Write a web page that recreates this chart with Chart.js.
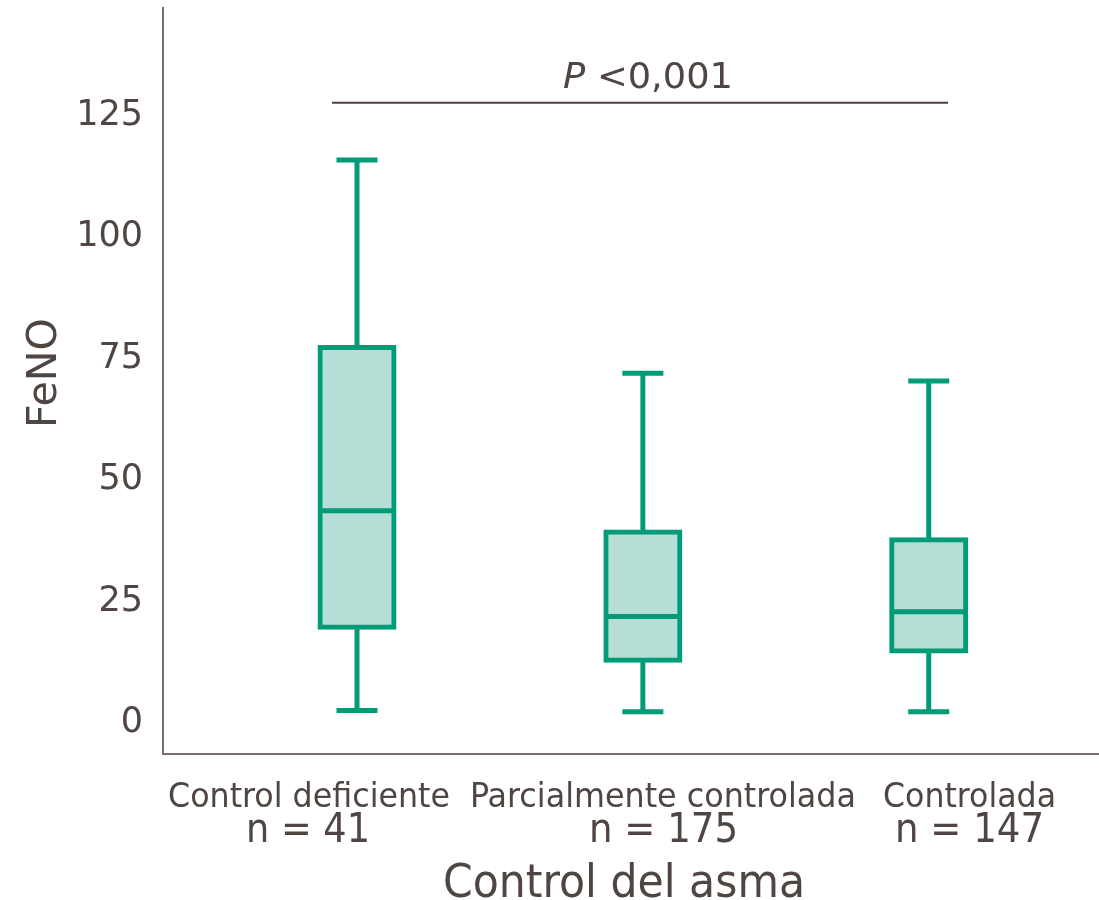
<!DOCTYPE html>
<html>
<head>
<meta charset="utf-8">
<script src="https://cdn.jsdelivr.net/npm/chart.js@4/dist/chart.umd.min.js"></script>
<style>
  html, body { margin: 0; padding: 0; background: #ffffff; }
  #wrap { width: 1099px; height: 900px; position: relative; }
</style>
</head>
<body>
<div id="wrap"><canvas id="c" width="1099" height="900"></canvas></div>
<script>
// ---- data ----
const categories = ["Control deficiente", "Parcialmente controlada", "Controlada"];
const sampleSizes = ["n = 41", "n = 175", "n = 147"];
const positions = [1, 2, 3];
const whiskerLow = [1.75, 1.5, 1.5];
const q1 = [18.9, 12.1, 14.0];
const median = [42.9, 21.1, 22.1];
const q3 = [76.5, 38.5, 36.9];
const whiskerHigh = [115.1, 71.2, 69.6];
const yTicks = [0, 25, 50, 75, 100, 125];
const bracketX = [0.9125, 3.0675];
const bracketY = 126.9;
const pText = ["P", " <0,001"];
const yTitle = "FeNO";
const xTitle = "Control del asma";

// ---- styles ----
const GREEN = "#009b77";
const FILL = "#b5ded6";
const TEXT = "#4f4643";
const AXIS = "#7d6f6b";

const datasets = [];
// medians (on top)
datasets.push({
  type: "line", order: 1, showLine: false,
  data: positions.map((x, i) => ({ x: x, y: median[i] })),
  pointStyle: "line", pointRadius: 37, pointHoverRadius: 37,
  pointBorderWidth: 5, pointBorderColor: GREEN, pointBackgroundColor: GREEN
});
// caps
datasets.push({
  type: "line", order: 1, showLine: false,
  data: positions.map((x, i) => ({ x: x, y: whiskerHigh[i] }))
    .concat(positions.map((x, i) => ({ x: x, y: whiskerLow[i] }))),
  pointStyle: "line", pointRadius: 20.5, pointHoverRadius: 20.5,
  pointBorderWidth: 5, pointBorderColor: GREEN, pointBackgroundColor: GREEN
});
// whiskers
positions.forEach((x, i) => {
  datasets.push({
    type: "line", order: 3, pointRadius: 0, borderColor: GREEN, borderWidth: 5,
    borderCapStyle: "butt",
    data: [{ x: x, y: q3[i] }, { x: x, y: whiskerHigh[i] }]
  });
  datasets.push({
    type: "line", order: 3, pointRadius: 0, borderColor: GREEN, borderWidth: 5,
    borderCapStyle: "butt",
    data: [{ x: x, y: whiskerLow[i] }, { x: x, y: q1[i] }]
  });
});
// boxes
datasets.push({
  type: "bar", order: 2,
  data: positions.map((x, i) => ({ x: x, y: [q1[i], q3[i]] })),
  backgroundColor: FILL, borderColor: GREEN, borderWidth: 5,
  borderSkipped: false, barThickness: 74, inflateAmount: 2.5
});
// significance bracket
datasets.push({
  type: "line", order: 1, pointRadius: 0, borderColor: "#4a403d", borderWidth: 2,
  data: [{ x: bracketX[0], y: bracketY }, { x: bracketX[1], y: bracketY }]
});

function fitText(ctx, text, cx, baseline, width, font, color) {
  ctx.save();
  ctx.font = font;
  ctx.fillStyle = color;
  ctx.textBaseline = "alphabetic";
  ctx.textAlign = "center";
  const w = ctx.measureText(text).width;
  ctx.translate(cx, baseline);
  ctx.scale(width / w, 1);
  ctx.fillText(text, 0, 0);
  ctx.restore();
}

const textPlugin = {
  id: "textPlugin",
  afterDraw(chart) {
    const ctx = chart.ctx;
    const xs = chart.scales.x;
    const ys = chart.scales.y;
    // y tick labels
    ctx.save();
    ctx.font = "35px 'DejaVu Sans'";
    ctx.fillStyle = TEXT;
    ctx.textAlign = "right";
    ctx.textBaseline = "middle";
    yTicks.forEach(v => ctx.fillText(String(v), 143, ys.getPixelForValue(v) + 4));
    ctx.restore();
    // category labels
    const catCenters = [309, 663, 969.5];
    const catWidths = [282, 386, 173];
    const nCenters = [308, 663.5, 969.5];
    const nWidths = [124, 149, 149];
    categories.forEach((c, i) => {
      fitText(ctx, c, catCenters[i], 807, catWidths[i], "34px 'DejaVu Sans Condensed', 'DejaVu Sans'", TEXT);
      fitText(ctx, sampleSizes[i], nCenters[i], 842, nWidths[i], "40px 'DejaVu Sans Condensed', 'DejaVu Sans'", TEXT);
    });
    fitText(ctx, xTitle, 624, 897, 362, "46px 'DejaVu Sans Condensed', 'DejaVu Sans'", TEXT);
    // y title
    ctx.save();
    ctx.translate(56, 373);
    ctx.rotate(-Math.PI / 2);
    ctx.font = "40px 'DejaVu Sans'";
    const tw = ctx.measureText(yTitle).width;
    ctx.scale(110 / tw, 1);
    ctx.fillStyle = TEXT;
    ctx.textAlign = "center";
    ctx.textBaseline = "alphabetic";
    ctx.fillText(yTitle, 0, 0);
    ctx.restore();
    // P value
    const by = ys.getPixelForValue(bracketY);
    const cx = (xs.getPixelForValue(bracketX[0]) + xs.getPixelForValue(bracketX[1])) / 2 + 8;
    ctx.save();
    ctx.fillStyle = TEXT;
    ctx.textBaseline = "alphabetic";
    ctx.textAlign = "left";
    ctx.font = "italic 35px 'DejaVu Sans'";
    const w1 = ctx.measureText(pText[0]).width;
    ctx.font = "35px 'DejaVu Sans'";
    const w2 = ctx.measureText(pText[1]).width;
    const total = w1 + w2;
    const sx = 170 / total;
    ctx.translate(cx - 85, by - 15);
    ctx.scale(sx, 1);
    ctx.font = "italic 35px 'DejaVu Sans'";
    ctx.fillText(pText[0], 0, 0);
    ctx.font = "35px 'DejaVu Sans'";
    ctx.fillText(pText[1], w1, 0);
    ctx.restore();
  }
};

new Chart(document.getElementById("c"), {
  type: "bar",
  data: { datasets: datasets },
  plugins: [textPlugin],
  options: {
    responsive: false,
    animation: false,
    events: [],
    layout: { autoPadding: false, padding: { left: 0, top: 8, right: 0, bottom: 0 } },
    plugins: { legend: { display: false }, tooltip: { enabled: false } },
    scales: {
      x: {
        type: "linear", min: 0.3213, max: 3.5957, offset: false,
        grid: { display: false, drawTicks: false, offset: false },
        border: { display: true, color: AXIS, width: 2 },
        ticks: { display: false },
        afterFit(scale) { scale.height = 146; }
      },
      y: {
        type: "linear", min: -7.2, max: 146.4,
        grid: { display: false, drawTicks: false },
        border: { display: true, color: AXIS, width: 2 },
        ticks: { display: false },
        afterFit(scale) { scale.width = 163; }
      }
    }
  }
});
</script>
</body>
</html>
